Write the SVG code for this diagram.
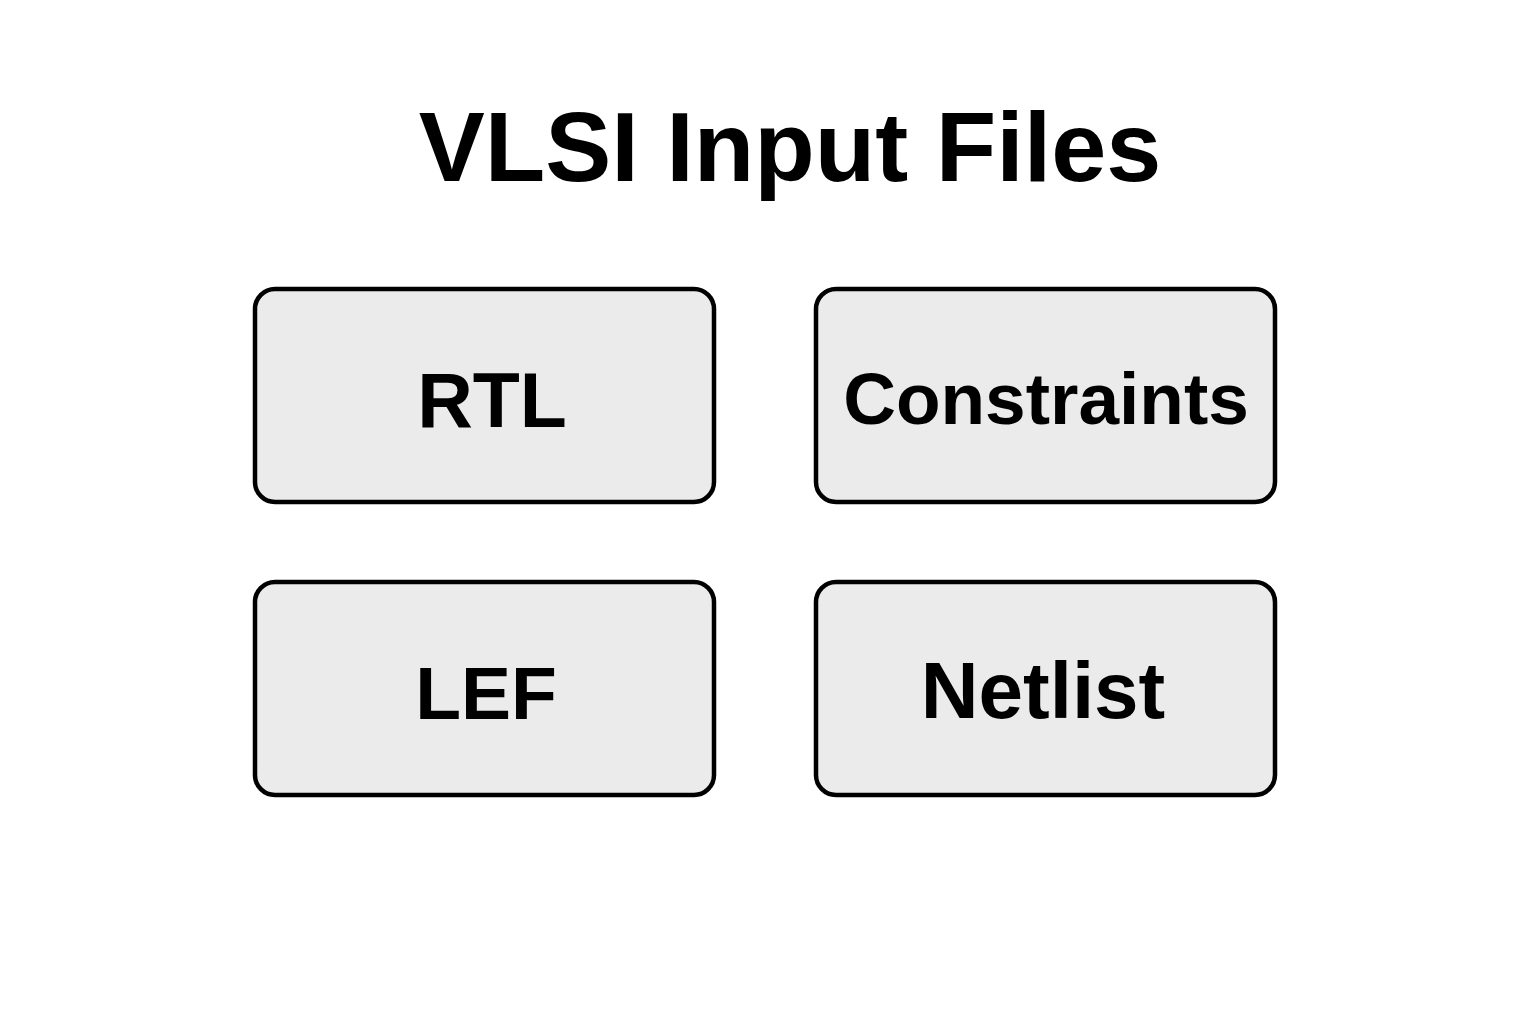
<svg xmlns="http://www.w3.org/2000/svg" width="1536" height="1024" viewBox="0 0 1536 1024">
<style>
.box{fill:#ebebeb;stroke:#000;stroke-width:4.5}
.lbl{font-family:"Liberation Sans",Arial,sans-serif;font-weight:bold;fill:#000;text-anchor:middle}
</style>
<rect width="1536" height="1024" fill="#fff"/>
<text class="lbl" x="790" y="181" font-size="99">VLSI Input Files</text>
<g id="rtl"><rect class="box" x="255" y="289" width="459" height="213" rx="20"/><text class="lbl" x="492" y="427" font-size="77">RTL</text></g>
<g id="constraints"><rect class="box" x="816" y="289" width="459" height="213" rx="20"/><text class="lbl" x="1046" y="424" font-size="73">Constraints</text></g>
<g id="lef"><rect class="box" x="255" y="582" width="459" height="213" rx="20"/><text class="lbl" x="486" y="719" font-size="75">LEF</text></g>
<g id="netlist"><rect class="box" x="816" y="582" width="459" height="213" rx="20"/><text class="lbl" x="1043" y="718" font-size="80">Netlist</text></g>
<g id="connectors"></g>
</svg>
